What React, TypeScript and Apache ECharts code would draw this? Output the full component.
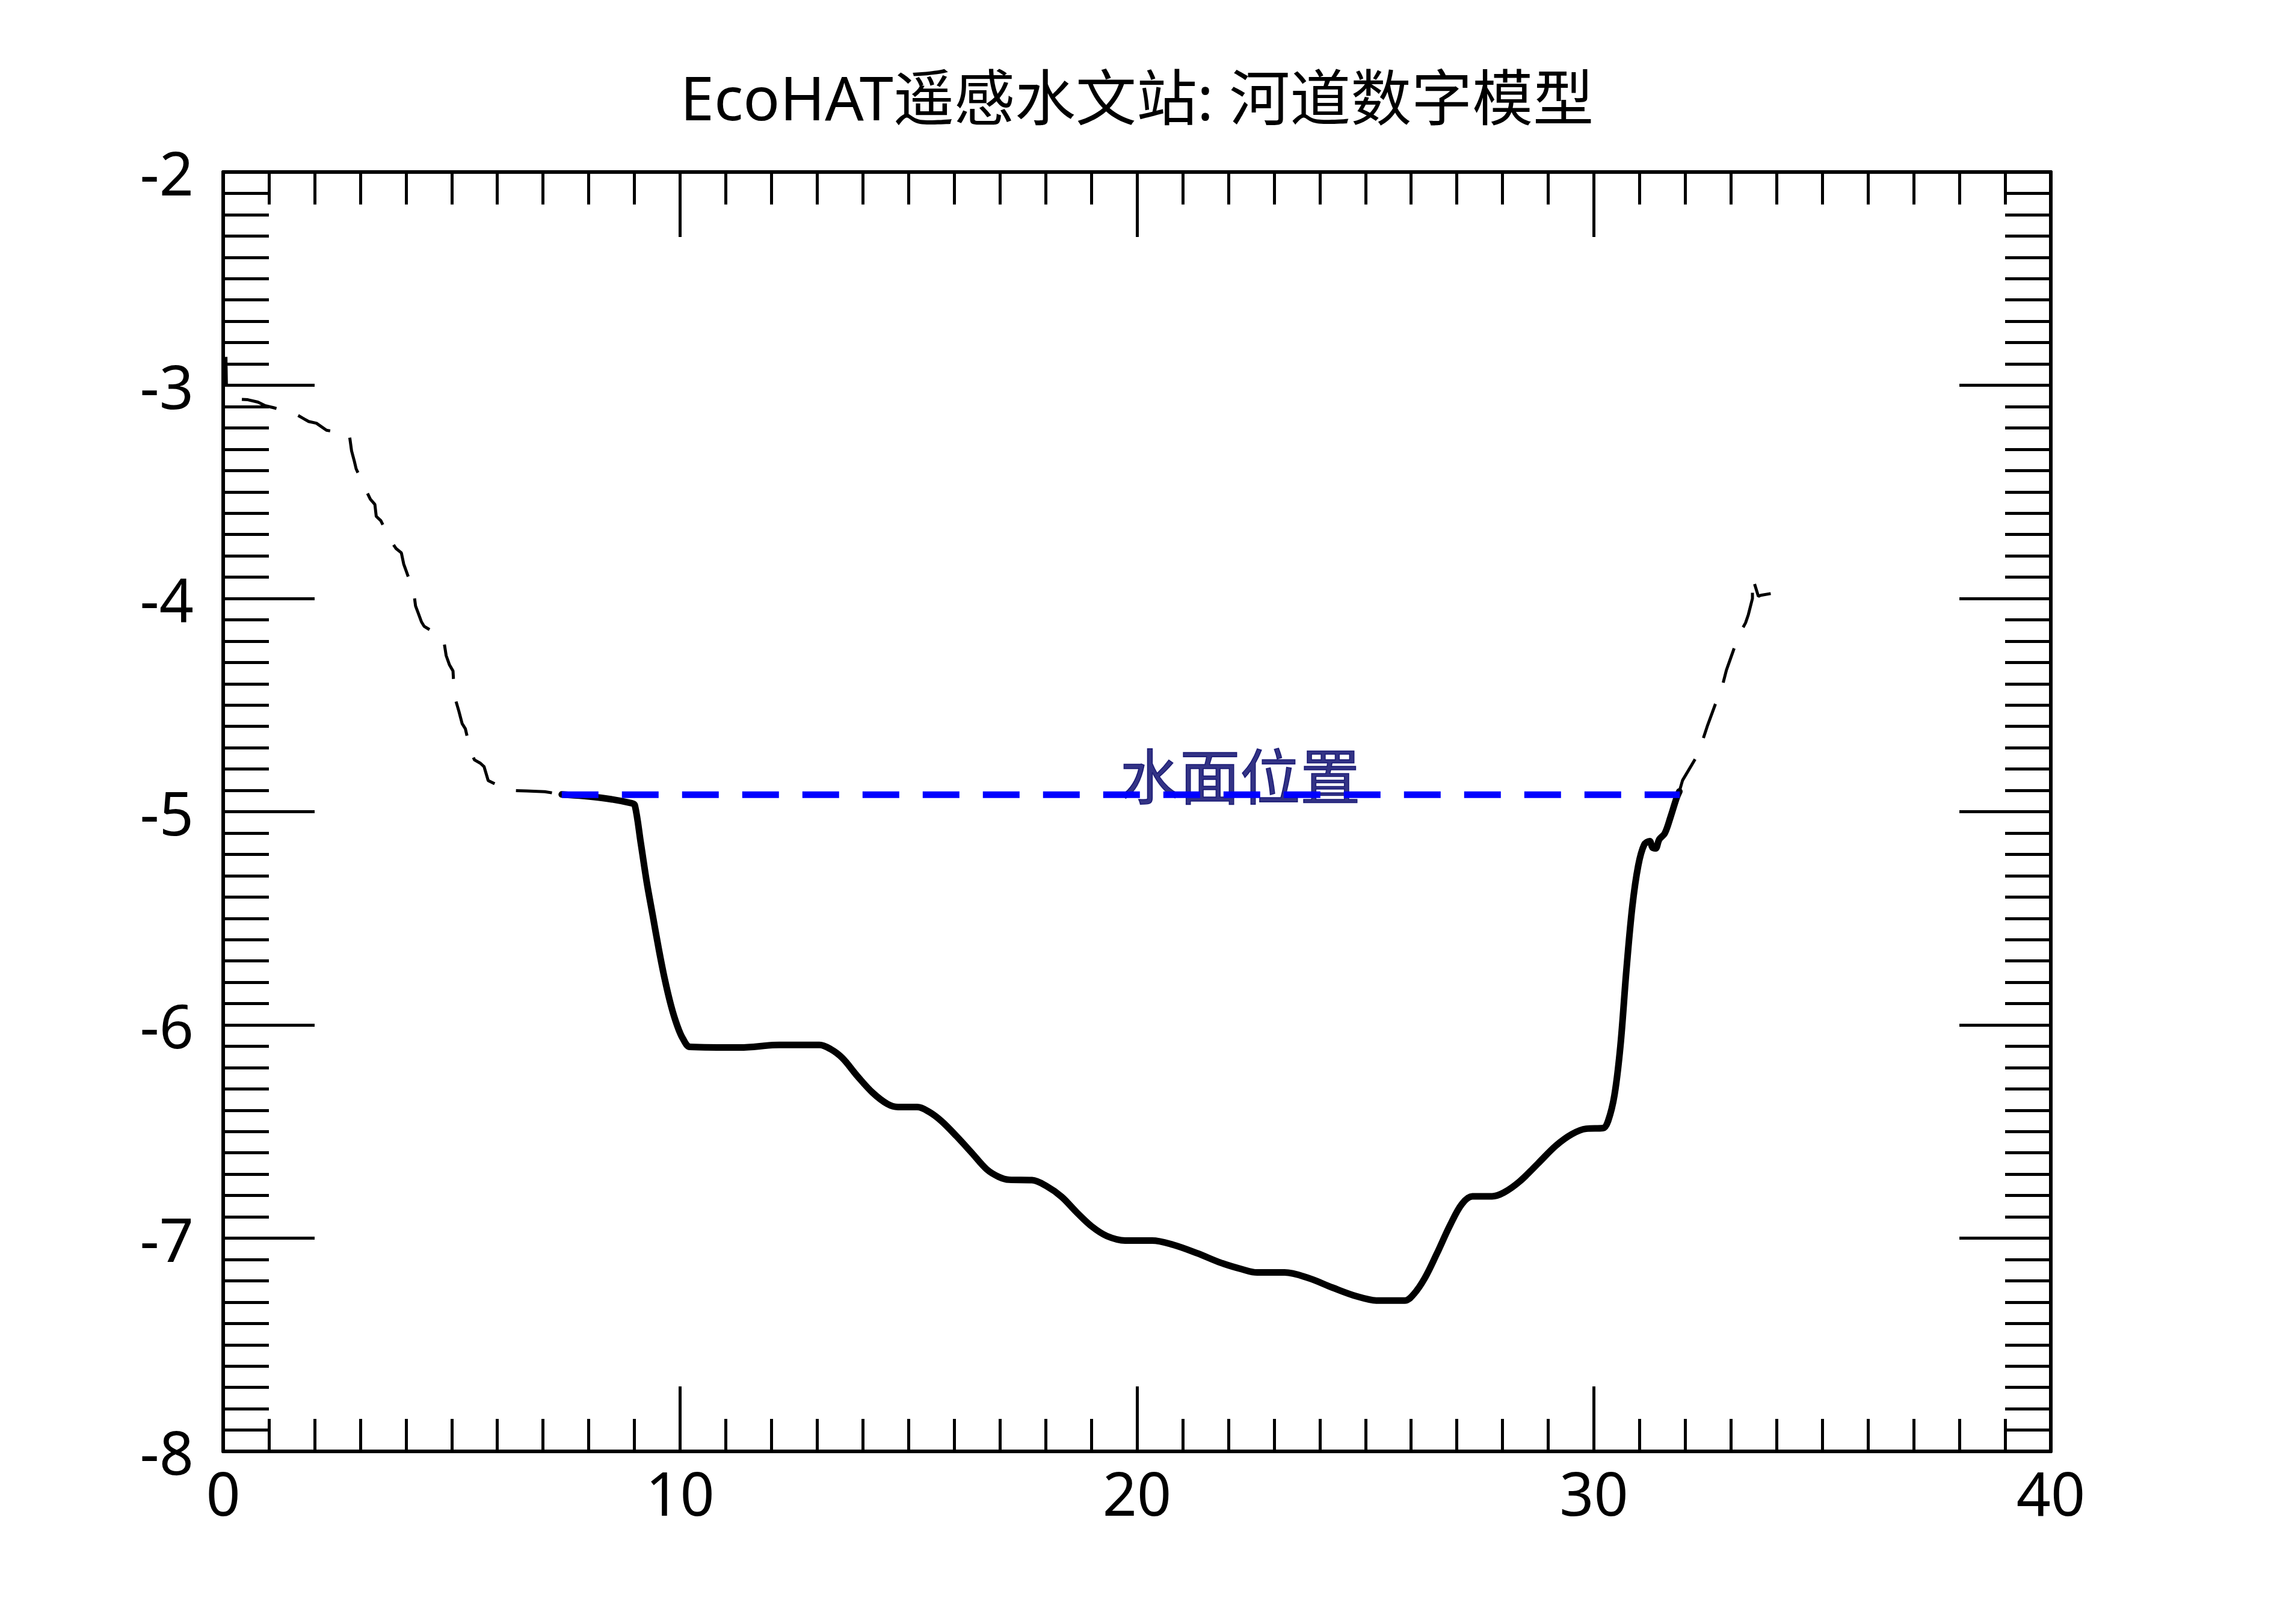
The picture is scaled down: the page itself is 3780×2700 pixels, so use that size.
import React, { useEffect, useRef } from "react";
import * as echarts from "echarts";

// ---------- text ----------
const TITLE = "EcoHAT遥感水文站: 河道数字模型";
const WATER_LABEL = "水面位置";

// ---------- axes ----------
const X_MIN = 0;
const X_MAX = 40;
const X_STEP = 10;
const Y_MIN = -8;
const Y_MAX = -2;
const Y_STEP = 1;

// ---------- data: left bank (above water, dashed) ----------
const leftBankX = [
  0.06, 0.07, 0.33, 0.54, 0.76, 0.92, 1.1, 1.57, 1.74, 1.87, 2.04, 2.26, 2.76, 2.81, 2.87,
  2.91, 3.12, 3.22, 3.32, 3.35, 3.45, 3.67, 3.78, 3.9, 3.95, 4.0, 4.17, 4.21, 4.28, 4.34,
  4.4, 4.82, 4.88, 4.95, 5.03, 5.06, 5.16, 5.23, 5.3, 5.42, 5.5, 5.63, 5.71, 5.8, 6.24,
  6.64, 7.04, 7.41,
];
const leftBankY = [
  -2.867, -2.994, -3.065, -3.068, -3.079, -3.096, -3.105, -3.133, -3.154, -3.17, -3.178,
  -3.211, -3.23, -3.308, -3.356, -3.392, -3.49, -3.534, -3.559, -3.615, -3.635, -3.729,
  -3.765, -3.786, -3.838, -3.868, -3.969, -4.035, -4.075, -4.11, -4.131, -4.185, -4.268,
  -4.31, -4.34, -4.456, -4.53, -4.587, -4.611, -4.72, -4.757, -4.773, -4.789, -4.854,
  -4.9, -4.903, -4.906, -4.919,
];

// ---------- data: channel bed (below water, solid) ----------
const channelX = [
  7.41, 8.28, 8.94, 9.01, 9.14, 9.27, 9.4, 9.53, 9.66, 9.8, 9.93, 10.06, 10.22, 11.31, 12.17,
  13.05, 13.29, 13.55, 13.88, 14.21, 14.54, 14.77, 15.19, 15.46, 15.72, 16.05, 16.38, 16.71,
  16.97, 17.2, 17.7, 18.02, 18.35, 18.68, 19.01, 19.34, 19.74, 20.33, 20.79, 21.32, 21.84,
  22.3, 22.63, 23.23, 23.75, 24.28, 24.81, 25.27, 25.86, 26.06, 26.3, 26.56, 26.85, 27.11,
  27.34, 27.77, 28.03, 28.38, 28.78, 29.17, 29.52, 29.83, 30.2, 30.31, 30.45, 30.58, 30.71,
  30.84, 30.97, 31.1, 31.22, 31.28, 31.35, 31.43, 31.55, 31.68, 31.81, 31.87,
];
const channelY = [
  -4.919, -4.935, -4.96, -4.97, -5.147, -5.33, -5.485, -5.64, -5.781, -5.908, -5.999,
  -6.064, -6.103, -6.106, -6.094, -6.094, -6.113, -6.155, -6.24, -6.317, -6.371, -6.385,
  -6.385, -6.409, -6.451, -6.522, -6.599, -6.677, -6.712, -6.726, -6.728, -6.756, -6.806,
  -6.879, -6.945, -6.99, -7.011, -7.011, -7.031, -7.071, -7.116, -7.146, -7.161, -7.161,
  -7.187, -7.232, -7.273, -7.293, -7.293, -7.262, -7.187, -7.074, -6.94, -6.84, -6.804,
  -6.804, -6.786, -6.733, -6.649, -6.566, -6.512, -6.487, -6.484, -6.451, -6.329, -6.099,
  -5.746, -5.446, -5.253, -5.155, -5.138, -5.168, -5.172, -5.13, -5.102, -5.023, -4.935,
  -4.905,
];

// ---------- data: right bank (above water, dashed) ----------
const rightBankX = [
  31.87, 31.94, 32.22, 32.38, 32.48, 32.66, 32.77, 32.84, 32.9, 33.08, 33.21, 33.32, 33.38,
  33.47, 33.47, 33.6, 33.65, 33.87,
];
const rightBankY = [
  -4.905, -4.853, -4.752, -4.665, -4.6, -4.495, -4.45, -4.386, -4.336, -4.227, -4.157,
  -4.114, -4.076, -4.0, -3.9, -3.99, -3.985, -3.977,
];

// ---------- data: water surface ----------
const waterLevel = -4.92;
const waterExtentX = [7.41, 31.88];
const waterLabelAnchor = [19.62, -4.82];

const zip = (xs: number[], ys: number[]) => xs.map((x, i) => [x, ys[i]]);

const LATIN_FONT = "'Noto Sans', 'Noto Sans CJK SC', sans-serif";
const CJK_FONT = "'Noto Sans CJK SC', 'Noto Sans', sans-serif";

function makeXAxis(position: "bottom" | "top", showLabel: boolean) {
  return {
    type: "value",
    position,
    min: X_MIN,
    max: X_MAX,
    interval: X_STEP,
    axisLine: { show: true, onZero: false, lineStyle: { color: "#000", width: 6 } },
    axisTick: { show: true, inside: true, length: 108, lineStyle: { color: "#000", width: 5 } },
    minorTick: { show: true, splitNumber: 10, length: 54, lineStyle: { color: "#000", width: 5 } },
    splitLine: { show: false },
    minorSplitLine: { show: false },
    axisLabel: {
      show: showLabel,
      margin: 18,
      fontSize: 100,
      color: "#000",
      fontFamily: LATIN_FONT,
    },
  };
}

function makeYAxis(position: "left" | "right", showLabel: boolean) {
  return {
    type: "value",
    position,
    min: Y_MIN,
    max: Y_MAX,
    interval: Y_STEP,
    axisLine: { show: true, onZero: false, lineStyle: { color: "#000", width: 6 } },
    axisTick: { show: true, inside: true, length: 152, lineStyle: { color: "#000", width: 5 } },
    minorTick: { show: true, splitNumber: 10, length: 76, lineStyle: { color: "#000", width: 5 } },
    splitLine: { show: false },
    minorSplitLine: { show: false },
    axisLabel: {
      show: showLabel,
      margin: 49,
      fontSize: 100,
      color: "#000",
      fontFamily: LATIN_FONT,
    },
  };
}

export default function App() {
  const ref = useRef<HTMLDivElement>(null);

  useEffect(() => {
    if (!ref.current) return;
    const chart = echarts.init(ref.current, null, { renderer: "svg" });
    const option = {
      animation: false,
      backgroundColor: "#ffffff",
      textStyle: { fontFamily: LATIN_FONT },
      title: {
        text: TITLE,
        left: "center",
        top: 110,
        padding: 0,
        textStyle: {
          fontSize: 101,
          lineHeight: 101,
          fontWeight: "normal",
          color: "#000",
          fontFamily: LATIN_FONT,
        },
      },
      grid: {
        left: 371,
        right: 371,
        top: 286,
        bottom: 287,
        containLabel: false,
        outerBoundsMode: "none",
      },
      xAxis: [makeXAxis("bottom", true), makeXAxis("top", false)],
      yAxis: [makeYAxis("left", true), makeYAxis("right", false)],
      series: [
        {
          name: "leftBank",
          type: "line",
          xAxisIndex: 0,
          yAxisIndex: 0,
          data: zip(leftBankX, leftBankY),
          showSymbol: false,
          symbol: "none",
          lineStyle: { color: "#000", width: 5, type: [60, 38], dashOffset: 15, cap: "butt" },
          silent: true,
        },
        {
          name: "rightBank",
          type: "line",
          xAxisIndex: 0,
          yAxisIndex: 0,
          data: zip(rightBankX, rightBankY),
          showSymbol: false,
          symbol: "none",
          lineStyle: { color: "#000", width: 5, type: [60, 38], cap: "butt" },
          silent: true,
        },
        {
          name: "channel",
          type: "line",
          xAxisIndex: 0,
          yAxisIndex: 0,
          data: zip(channelX, channelY),
          showSymbol: false,
          symbol: "none",
          smooth: 0.35,
          lineStyle: { color: "#000", width: 11, cap: "round", join: "round" },
          silent: true,
        },
        {
          name: "water",
          type: "line",
          xAxisIndex: 0,
          yAxisIndex: 0,
          data: waterExtentX.map((x) => [x, waterLevel]),
          showSymbol: false,
          symbol: "none",
          lineStyle: { color: "#0000ff", width: 11, type: [61, 39], cap: "butt" },
          silent: true,
        },
        {
          name: "waterLabel",
          type: "scatter",
          xAxisIndex: 0,
          yAxisIndex: 0,
          data: [waterLabelAnchor],
          symbolSize: 0,
          silent: true,
          label: {
            show: true,
            formatter: WATER_LABEL,
            position: "right",
            distance: 0,
            fontSize: 100,
            color: "#000066",
            textBorderColor: "#000066",
            textBorderWidth: 1.5,
            fontFamily: CJK_FONT,
          },
        },
      ],
    };
    chart.setOption(option as any);
    return () => chart.dispose();
  }, []);

  return (
    <div
      ref={ref}
      style={{ position: "absolute", left: 0, top: 0, width: 3780, height: 2700, background: "#fff" }}
    />
  );
}
